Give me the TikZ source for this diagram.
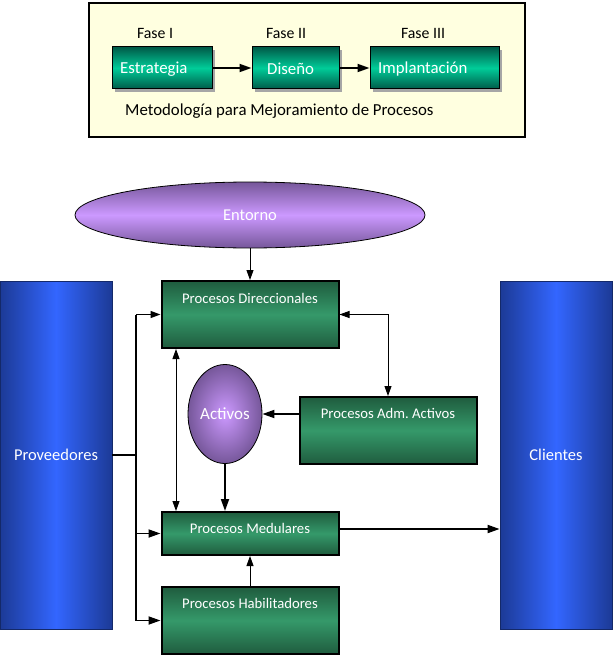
\documentclass[tikz,border=0pt]{standalone}
\usepackage{fontspec}
\setmainfont{Carlito}
\usetikzlibrary{arrows.meta,shapes.geometric,shadows}
\definecolor{cream}{HTML}{FFFFE0}
\definecolor{tealdark}{HTML}{005A48}
\definecolor{tealmid}{HTML}{00CC99}
\definecolor{grndark}{HTML}{1F5C3E}
\definecolor{grnmid}{HTML}{35996A}
\definecolor{bluedark}{HTML}{1C3A96}
\definecolor{bluemid}{HTML}{3366FF}
\definecolor{purpdark}{HTML}{76579A}
\definecolor{purpmid}{HTML}{CC99FF}
\frenchspacing
\begin{document}
\begin{tikzpicture}[x=1pt,y=-1pt,
  phasebox/.style={draw=black,line width=1pt,top color=tealdark,bottom color=tealdark,middle color=tealmid,
    minimum height=42pt,inner sep=0pt,drop shadow={shadow xshift=3pt,shadow yshift=-3pt,fill=gray!70,opacity=1}},
  phasetext/.style={text=white,font=\fontsize{16.8}{19}\selectfont,inner sep=0pt},
  fasetext/.style={font=\fontsize{15.8}{18}\selectfont,inner sep=0pt},
  procbox/.style={draw=black,line width=2pt,top color=grndark,bottom color=grndark,middle color=grnmid,
    minimum width=177pt,inner sep=0pt},
  proctext/.style={text=white,font=\fontsize{14.7}{17}\selectfont,inner sep=0pt},
  column/.style={draw=bluedark!70!black,line width=0.8pt,left color=bluedark,right color=bluedark,middle color=bluemid,
    minimum width=112pt,minimum height=348pt,inner sep=0pt,text=white,font=\fontsize{16.5}{19}\selectfont},
  thin/.style={line width=0.9pt,-{Triangle[length=10pt,width=7pt]}},
  thinboth/.style={line width=0.9pt,{Triangle[length=10pt,width=7pt]}-{Triangle[length=10pt,width=7pt]}},
  thick/.style={line width=1.8pt,-{Triangle[length=12pt,width=8pt]}},
  trunk/.style={line width=1.8pt}
]
\useasboundingbox (0,0) rectangle (613,655);
% top frame
\node[draw=black,line width=2pt,fill=cream,minimum width=436pt,minimum height=134pt,anchor=north west,inner sep=0pt] (frame) at (88,2) {};
\node[phasebox,minimum width=100pt] (estr) at (162,68) {};
\node[phasebox,minimum width=87pt] (dis) at (295.5,68) {};
\node[phasebox,minimum width=129pt] (impl) at (434.5,68) {};
\node[phasetext,anchor=west] (testr) at (120,69) {Estrategia};
\node[phasetext,anchor=west] (tdis) at (267,69) {Diseño};
\node[phasetext,anchor=west] (timpl) at (378,69) {Implantación};
\node[fasetext] (f1) at (155,33) {Fase I};
\node[fasetext] (f2) at (286,33) {Fase II};
\node[fasetext] (f3) at (423,33) {Fase III};
\node[font=\fontsize{16.8}{19}\selectfont,inner sep=0pt,anchor=west] (metod) at (125,111) {Metodología para Mejoramiento de Procesos};
\draw[thick] (estr.east) -- (dis.west);
\draw[thick] (dis.east) -- (impl.west);

% lower diagram
\node[ellipse,draw=black,line width=0.8pt,top color=purpdark,bottom color=purpdark,middle color=purpmid,
  minimum width=350pt,minimum height=66pt,inner sep=0pt,text=white,font=\fontsize{16.5}{19}\selectfont] (ent) at (250,215) {Entorno};
\node[column] (prov) at (56,455) {Proveedores};
\node[column] (cli) at (556,455) {Clientes};
\node[procbox,minimum height=67pt] (dir) at (250,314.5) {};
\node[procbox,minimum height=67pt] (adm) at (388,430.5) {};
\node[procbox,minimum height=43pt] (med) at (250,533.5) {};
\node[procbox,minimum height=67pt] (hab) at (250,620.5) {};
\node[proctext] (tdir) at (250,298) {Procesos Direccionales};
\node[proctext] (tadm) at (388,413) {Procesos Adm. Activos};
\node[proctext] (tmed) at (250,528) {Procesos Medulares};
\node[proctext] (thab) at (250,603) {Procesos Habilitadores};
\node[ellipse,draw=black,line width=0.8pt,shading=radial,inner color=purpmid,outer color=purpdark,
  minimum width=74pt,minimum height=99pt,inner sep=0pt,text=white,font=\fontsize{17}{19}\selectfont] (act) at (225,414) {Activos};

% connectors
\coordinate (tA) at (136,314.5);
\coordinate (tB) at (136,620.5);
\coordinate (lx) at (176,0);
\coordinate (my) at (0,529);
\draw[thin] (ent.south) -- (dir.north);
\draw[trunk] (prov.east) -- (prov.east -| tA);
\draw[trunk] (tA) -- (tB);
\draw[thin,line width=1.4pt] (tA) -- (dir.west);
\draw[thick] (med.west -| tA) -- (med.west);
\draw[thick] (tB) -- (hab.west);
\draw[thinboth] (dir.east) -| (adm.north);
\draw[thinboth] (dir.south -| lx) -- (med.north -| lx);
\draw[thick] (adm.west |- act.east) -- (act.east);
\draw[thick] (act.south) -- (act.south |- med.north);
\draw[thin] (hab.north) -- (med.south);
\draw[thick] (med.east |- my) -- (cli.west |- my);
\end{tikzpicture}
\end{document}
